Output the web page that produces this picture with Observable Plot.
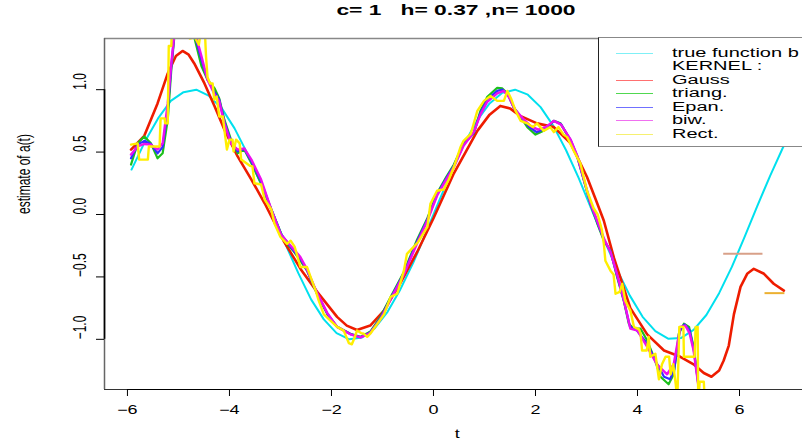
<!DOCTYPE html>
<html><head><meta charset="utf-8">
<script src="https://cdn.jsdelivr.net/npm/d3@7"></script>
<script src="https://cdn.jsdelivr.net/npm/@observablehq/plot@0.6"></script>
<style>
body{margin:0;background:#fff;font-family:"Liberation Sans",Arial,sans-serif;}
#wrap{position:relative;width:802px;height:446px;overflow:hidden;background:#fff;}
#title{position:relative;height:28px;}
#title span{position:absolute;left:456px;top:1px;line-height:18px;font-size:14px;font-weight:bold;white-space:pre;transform:translateX(-50%) scaleX(1.63);}
#legend{position:absolute;left:598px;top:37px;width:260px;height:108px;background:#fff;border-left:1.5px solid #222;border-top:1.5px solid #888;border-bottom:1.5px solid #888;}
.lrow{position:absolute;left:0;height:0;}
.lline{position:absolute;left:17px;width:37px;height:1px;}
.ltext{position:absolute;left:73px;top:-8px;font-size:12.5px;line-height:16px;white-space:pre;transform-origin:0 50%;transform:scaleX(1.6);}
</style></head><body>
<div id="wrap"><div id="title"><span id="ttl"></span></div><div id="chart"></div><div id="legend"></div></div>
<script>
const titleText = "c= 1   h= 0.37 ,n= 1000";
const xLabel = "t";
const yLabel = "estimate of a(t)";
const xTicks = [-6, -4, -2, 0, 2, 4, 6];
const yTicks = [-1.0, -0.5, 0.0, 0.5, 1.0];
const yTickLabels = ["\u22121.0", "\u22120.5", "0.0", "0.5", "1.0"];
const legendLabels = ["true function b", "KERNEL :", "Gauss", "triang.", "Epan.", "biw.", "Rect."];
const legendColors = ["#7ff0f6", null, "#ff7070", "#50d850", "#7070ff", "#f070f0", "#f6f070"];

// true function (cyan)
const truth = [[-5.92,0.36],[-5.65,0.59],[-5.4,0.77],[-5.15,0.91],[-4.9,0.98],[-4.65,1.0],[-4.4,0.95],[-4.15,0.85],[-3.9,0.69],[-3.65,0.49],[-3.4,0.26],[-3.15,0.01],[-2.9,-0.24],[-2.65,-0.47],[-2.4,-0.68],[-2.15,-0.84],[-1.9,-0.95],[-1.65,-1.0],[-1.4,-0.985],[-1.15,-0.91],[-0.9,-0.78],[-0.65,-0.6],[-0.4,-0.39],[-0.15,-0.15],[0.1,0.1],[0.35,0.34],[0.6,0.565],[0.85,0.75],[1.1,0.89],[1.35,0.975],[1.6,1.0],[1.85,0.96],[2.1,0.86],[2.35,0.71],[2.6,0.515],[2.85,0.29],[3.1,0.04],[3.35,-0.205],[3.6,-0.445],[3.85,-0.65],[4.1,-0.82],[4.35,-0.935],[4.6,-0.995],[4.85,-0.99],[5.1,-0.925],[5.35,-0.805],[5.6,-0.63],[5.85,-0.42],[6.1,-0.18],[6.35,0.07],[6.6,0.31],[6.85,0.535],[7.1,0.73],[7.35,0.875]];

// Gauss kernel estimate (red)
const gauss = [[-5.93,0.52],[-5.67,0.63],[-5.41,0.89],[-5.21,1.13],[-5.05,1.27],[-4.92,1.31],[-4.8,1.28],[-4.69,1.21],[-4.49,1.05],[-4.29,0.865],[-4.1,0.68],[-3.84,0.465],[-3.57,0.28],[-3.31,0.09],[-3.05,-0.12],[-2.94,-0.21],[-2.6,-0.44],[-2.28,-0.62],[-1.89,-0.82],[-1.7,-0.89],[-1.5,-0.925],[-1.24,-0.89],[-0.97,-0.77],[-0.65,-0.55],[-0.32,-0.3],[0.0,-0.03],[0.4,0.33],[0.86,0.67],[1.1,0.8],[1.31,0.87],[1.5,0.85],[1.7,0.79],[2.03,0.73],[2.36,0.7],[2.69,0.57],[3.01,0.3],[3.2,0.1],[3.34,-0.05],[3.54,-0.35],[3.86,-0.75],[4.19,-0.96],[4.52,-1.09],[4.84,-1.14],[5.1,-1.2],[5.3,-1.27],[5.45,-1.3],[5.6,-1.25],[5.69,-1.17],[5.79,-1.05],[5.89,-0.8],[6.02,-0.58],[6.15,-0.475],[6.28,-0.435],[6.48,-0.475],[6.67,-0.555],[6.87,-0.61]];

// triangular kernel estimate (green)
const triang = [[-5.93,0.4],[-5.8,0.57],[-5.67,0.625],[-5.54,0.57],[-5.41,0.45],[-5.31,0.49],[-5.21,0.76],[-5.14,1.16],[-5.08,1.43],[-5.0,1.6],[-4.88,1.66],[-4.76,1.58],[-4.69,1.42],[-4.55,1.19],[-4.43,1.08],[-4.29,1.01],[-4.2,0.93],[-4.1,0.76],[-3.97,0.6],[-3.84,0.49],[-3.71,0.52],[-3.57,0.41],[-3.38,0.25],[-3.18,0.04],[-2.99,-0.15],[-2.94,-0.2],[-2.75,-0.29],[-2.61,-0.37],[-2.48,-0.45],[-2.28,-0.64],[-2.08,-0.8],[-1.89,-0.9],[-1.63,-0.955],[-1.43,-0.98],[-1.24,-0.94],[-1.04,-0.82],[-0.84,-0.66],[-0.58,-0.46],[-0.32,-0.2],[-0.12,-0.03],[0.07,0.17],[0.25,0.3],[0.4,0.4],[0.59,0.57],[0.79,0.65],[0.92,0.83],[1.05,0.94],[1.25,1.015],[1.35,1.01],[1.45,0.97],[1.57,0.86],[1.71,0.78],[1.84,0.7],[2.0,0.64],[2.16,0.67],[2.36,0.75],[2.49,0.73],[2.69,0.59],[2.82,0.46],[2.95,0.27],[3.08,0.08],[3.21,-0.07],[3.34,-0.21],[3.47,-0.29],[3.6,-0.5],[3.73,-0.69],[3.83,-0.875],[3.93,-0.915],[4.06,-0.915],[4.19,-1.01],[4.32,-1.14],[4.45,-1.3],[4.61,-1.36],[4.71,-1.28],[4.81,-0.955],[4.91,-0.875],[5.01,-0.9],[5.1,-1.06],[5.17,-1.28],[5.25,-1.55]];

// Epanechnikov kernel estimate (blue)
const epan = [[-5.93,0.45],[-5.8,0.56],[-5.67,0.59],[-5.54,0.565],[-5.41,0.49],[-5.31,0.54],[-5.21,0.84],[-5.14,1.19],[-5.08,1.44],[-5.0,1.61],[-4.88,1.67],[-4.76,1.59],[-4.67,1.42],[-4.55,1.24],[-4.43,1.08],[-4.29,0.98],[-4.2,0.92],[-4.1,0.745],[-3.97,0.585],[-3.84,0.505],[-3.71,0.525],[-3.57,0.425],[-3.38,0.265],[-3.18,0.04],[-2.99,-0.155],[-2.8,-0.26],[-2.61,-0.355],[-2.48,-0.445],[-2.28,-0.635],[-2.08,-0.795],[-1.89,-0.9],[-1.63,-0.958],[-1.43,-0.983],[-1.24,-0.945],[-1.04,-0.83],[-0.84,-0.67],[-0.58,-0.47],[-0.32,-0.215],[-0.12,-0.04],[0.07,0.16],[0.25,0.29],[0.4,0.39],[0.59,0.56],[0.79,0.655],[0.92,0.815],[1.05,0.92],[1.25,0.99],[1.35,1.0],[1.47,0.955],[1.58,0.85],[1.73,0.775],[1.87,0.705],[2.02,0.66],[2.18,0.685],[2.36,0.75],[2.5,0.725],[2.69,0.595],[2.82,0.465],[2.95,0.275],[3.08,0.085],[3.21,-0.06],[3.34,-0.2],[3.47,-0.295],[3.6,-0.49],[3.73,-0.685],[3.85,-0.895],[3.97,-0.92],[4.19,-1.035],[4.35,-1.17],[4.52,-1.3],[4.64,-1.32],[4.72,-1.24],[4.83,-0.93],[4.92,-0.88],[5.02,-0.925],[5.1,-1.075],[5.17,-1.29],[5.25,-1.55]];

// biweight kernel estimate (magenta)
const biw = [[-5.93,0.48],[-5.8,0.545],[-5.67,0.565],[-5.54,0.56],[-5.41,0.52],[-5.31,0.57],[-5.21,0.89],[-5.14,1.21],[-5.08,1.45],[-5.0,1.62],[-4.88,1.68],[-4.76,1.6],[-4.65,1.42],[-4.55,1.27],[-4.43,1.08],[-4.29,0.96],[-4.2,0.905],[-4.1,0.73],[-3.97,0.57],[-3.84,0.52],[-3.71,0.53],[-3.57,0.44],[-3.38,0.28],[-3.18,0.04],[-2.99,-0.16],[-2.8,-0.25],[-2.61,-0.34],[-2.48,-0.44],[-2.28,-0.63],[-2.08,-0.79],[-1.89,-0.9],[-1.63,-0.96],[-1.43,-0.985],[-1.24,-0.95],[-1.04,-0.84],[-0.84,-0.68],[-0.58,-0.48],[-0.32,-0.23],[-0.12,-0.05],[0.07,0.15],[0.25,0.28],[0.4,0.38],[0.59,0.55],[0.79,0.66],[0.92,0.8],[1.05,0.9],[1.25,0.97],[1.38,0.99],[1.48,0.94],[1.6,0.84],[1.75,0.77],[1.9,0.71],[2.05,0.68],[2.2,0.7],[2.36,0.75],[2.5,0.72],[2.69,0.6],[2.82,0.47],[2.95,0.28],[3.08,0.09],[3.21,-0.05],[3.34,-0.19],[3.47,-0.3],[3.6,-0.48],[3.73,-0.68],[3.86,-0.915],[4.0,-0.93],[4.19,-1.06],[4.38,-1.2],[4.58,-1.28],[4.71,-1.2],[4.84,-0.9],[4.94,-0.89],[5.02,-0.95],[5.1,-1.09],[5.17,-1.3],[5.25,-1.55]];

// rectangular kernel estimate (yellow)
const rect = [[-5.93,0.56],[-5.8,0.57],[-5.77,0.44],[-5.6,0.44],[-5.58,0.545],[-5.37,0.545],[-5.35,0.77],[-5.27,0.77],[-5.26,0.73],[-5.21,0.73],[-5.19,1.35],[-5.14,1.35],[-5.12,1.6],[-4.95,1.7],[-4.8,1.6],[-4.78,1.41],[-4.68,1.42],[-4.6,1.36],[-4.55,1.5],[-4.48,1.45],[-4.46,1.27],[-4.43,1.1],[-4.38,1.05],[-4.33,1.05],[-4.3,0.92],[-4.25,0.945],[-4.2,0.785],[-4.13,0.785],[-4.1,0.68],[-4.05,0.52],[-4.0,0.6],[-3.94,0.6],[-3.92,0.505],[-3.87,0.6],[-3.8,0.57],[-3.77,0.44],[-3.6,0.39],[-3.55,0.385],[-3.51,0.25],[-3.38,0.24],[-3.31,0.12],[-3.18,0.04],[-3.12,-0.07],[-3.0,-0.18],[-2.87,-0.235],[-2.8,-0.21],[-2.72,-0.26],[-2.61,-0.42],[-2.48,-0.42],[-2.41,-0.5],[-2.31,-0.61],[-2.25,-0.69],[-2.15,-0.8],[-2.02,-0.85],[-1.89,-0.9],[-1.76,-0.93],[-1.66,-1.03],[-1.6,-1.04],[-1.56,-1.0],[-1.5,-0.93],[-1.42,-0.95],[-1.37,-0.955],[-1.3,-0.98],[-1.24,-0.955],[-1.1,-0.875],[-0.97,-0.8],[-0.84,-0.66],[-0.71,-0.635],[-0.58,-0.45],[-0.52,-0.315],[-0.39,-0.26],[-0.3,-0.22],[-0.12,-0.1],[-0.06,0.085],[0.07,0.19],[0.2,0.2],[0.3,0.28],[0.4,0.38],[0.53,0.54],[0.59,0.59],[0.73,0.645],[0.86,0.83],[0.99,0.91],[1.12,0.95],[1.25,0.91],[1.38,0.91],[1.45,0.99],[1.52,0.93],[1.61,0.83],[1.71,0.75],[1.84,0.73],[1.95,0.7],[2.03,0.73],[2.16,0.67],[2.29,0.7],[2.36,0.66],[2.45,0.7],[2.55,0.64],[2.62,0.62],[2.75,0.51],[2.88,0.41],[3.01,0.19],[3.14,0.05],[3.22,0.0],[3.3,-0.12],[3.34,-0.235],[3.37,-0.37],[3.47,-0.45],[3.53,-0.48],[3.57,-0.635],[3.65,-0.62],[3.7,-0.555],[3.76,-0.69],[3.86,-0.77],[3.93,-0.9],[4.03,-0.92],[4.06,-0.955],[4.09,-1.09],[4.18,-1.09],[4.22,-0.98],[4.25,-1.14],[4.35,-1.115],[4.42,-1.32],[4.48,-1.2],[4.55,-1.14],[4.62,-1.14],[4.65,-1.28],[4.7,-1.2],[4.75,-1.36],[4.78,-1.5],[4.82,-0.9],[4.9,-0.9],[4.91,-1.14],[5.12,-1.14],[5.14,-0.9],[5.18,-0.9],[5.19,-1.5],[5.22,-1.34],[5.3,-1.34],[5.32,-1.5]];

// short constant estimates at the right end
const tailSegments = [{t1: 5.69, t2: 6.46, v: -0.315, c: "#d8a088"}, {t1: 6.5, t2: 6.89, v: -0.63, c: "#ecb030"}];

const xDomain = [-6.45, 7.235];
const yDomain = [-1.402, 1.41];

const X = d => d[0], Y = d => d[1];
const ln = (data, stroke, w) => Plot.line(data, {x: X, y: Y, stroke, strokeWidth: w, clip: true, strokeLinejoin: "round"});

const chart = Plot.plot({
  width: 802, height: 418,
  marginLeft: 104, marginRight: 0, marginTop: 10, marginBottom: 57,
  x: {domain: xDomain},
  y: {domain: yDomain},
  style: {fontFamily: "'Liberation Sans', Arial, sans-serif", fontSize: "12px", color: "#000", background: "transparent"},
  marks: [
    ln(truth, "#00e0ee", 2),
    ln(gauss, "#ee1c00", 2.6),
    ln(triang, "#1cc01c", 2.2),
    ln(epan, "#3030ff", 2.2),
    ln(biw, "#ee10ee", 2.4),
    ln(rect, "#ffee00", 2.4),
    Plot.ruleY(tailSegments, {y: "v", x1: "t1", x2: "t2", stroke: "c", strokeWidth: 2}),
    Plot.ruleY([yDomain[1]], {stroke: "#888", strokeWidth: 1.5}),
    Plot.ruleY([yDomain[0]], {stroke: "#333", strokeWidth: 1}),
    Plot.ruleX([xDomain[0]], {stroke: "#666", strokeWidth: 1.5}),
    Plot.ruleY([yDomain[0]], {x1: () => xTicks[0], x2: () => xTicks[xTicks.length - 1], stroke: "#000", strokeWidth: 1.2}),
    Plot.ruleX([xDomain[0]], {y1: () => yTicks[0], y2: () => yTicks[yTicks.length - 1], stroke: "#000", strokeWidth: 1.6}),
    Plot.axisX({ticks: xTicks, tickSize: 7, tickPadding: 9, label: null, fontSize: 12, tickFormat: d => (d < 0 ? "\u2212" + Math.abs(d) : String(d))}),
    Plot.axisY({ticks: yTicks, tickSize: 8, tickFormat: () => "", label: null}),
    Plot.text(yTicks, {y: d => d, frameAnchor: "left", dx: -24, rotate: -90, text: (d, i) => yTickLabels[i], fontSize: 12}),
    Plot.text([yLabel], {frameAnchor: "left", dx: -80, rotate: -90, fontSize: 12}),
    Plot.text([xLabel], {frameAnchor: "bottom", dx: 4, dy: 48, fontSize: 12})
  ]
});

document.getElementById("chart").appendChild(chart);

// horizontal stretch of text, as in the reference rendering (about each text's own centre)
chart.querySelectorAll("text").forEach(t => {
  if (!t.textContent) return;
  const b = t.getBBox();
  const cx = b.x + b.width / 2, cy = b.y + b.height / 2;
  const tr = t.getAttribute("transform") || "";
  const s = /rotate/.test(tr) ? "scale(1,1.5)" : "scale(1.5,1)";
  t.setAttribute("transform", `${tr} translate(${cx},${cy}) ${s} translate(${-cx},${-cy})`.trim());
});
document.getElementById("ttl").textContent = titleText;

const lg = document.getElementById("legend");
legendLabels.forEach((lab, i) => {
  const row = document.createElement("div");
  row.className = "lrow";
  row.style.top = (14.5 + 13.5 * i) + "px";
  if (legendColors[i]) {
    const l = document.createElement("div");
    l.className = "lline";
    l.style.background = legendColors[i];
    row.appendChild(l);
  }
  const tx = document.createElement("div");
  tx.className = "ltext";
  tx.textContent = lab;
  row.appendChild(tx);
  lg.appendChild(row);
});
</script>
</body></html>
